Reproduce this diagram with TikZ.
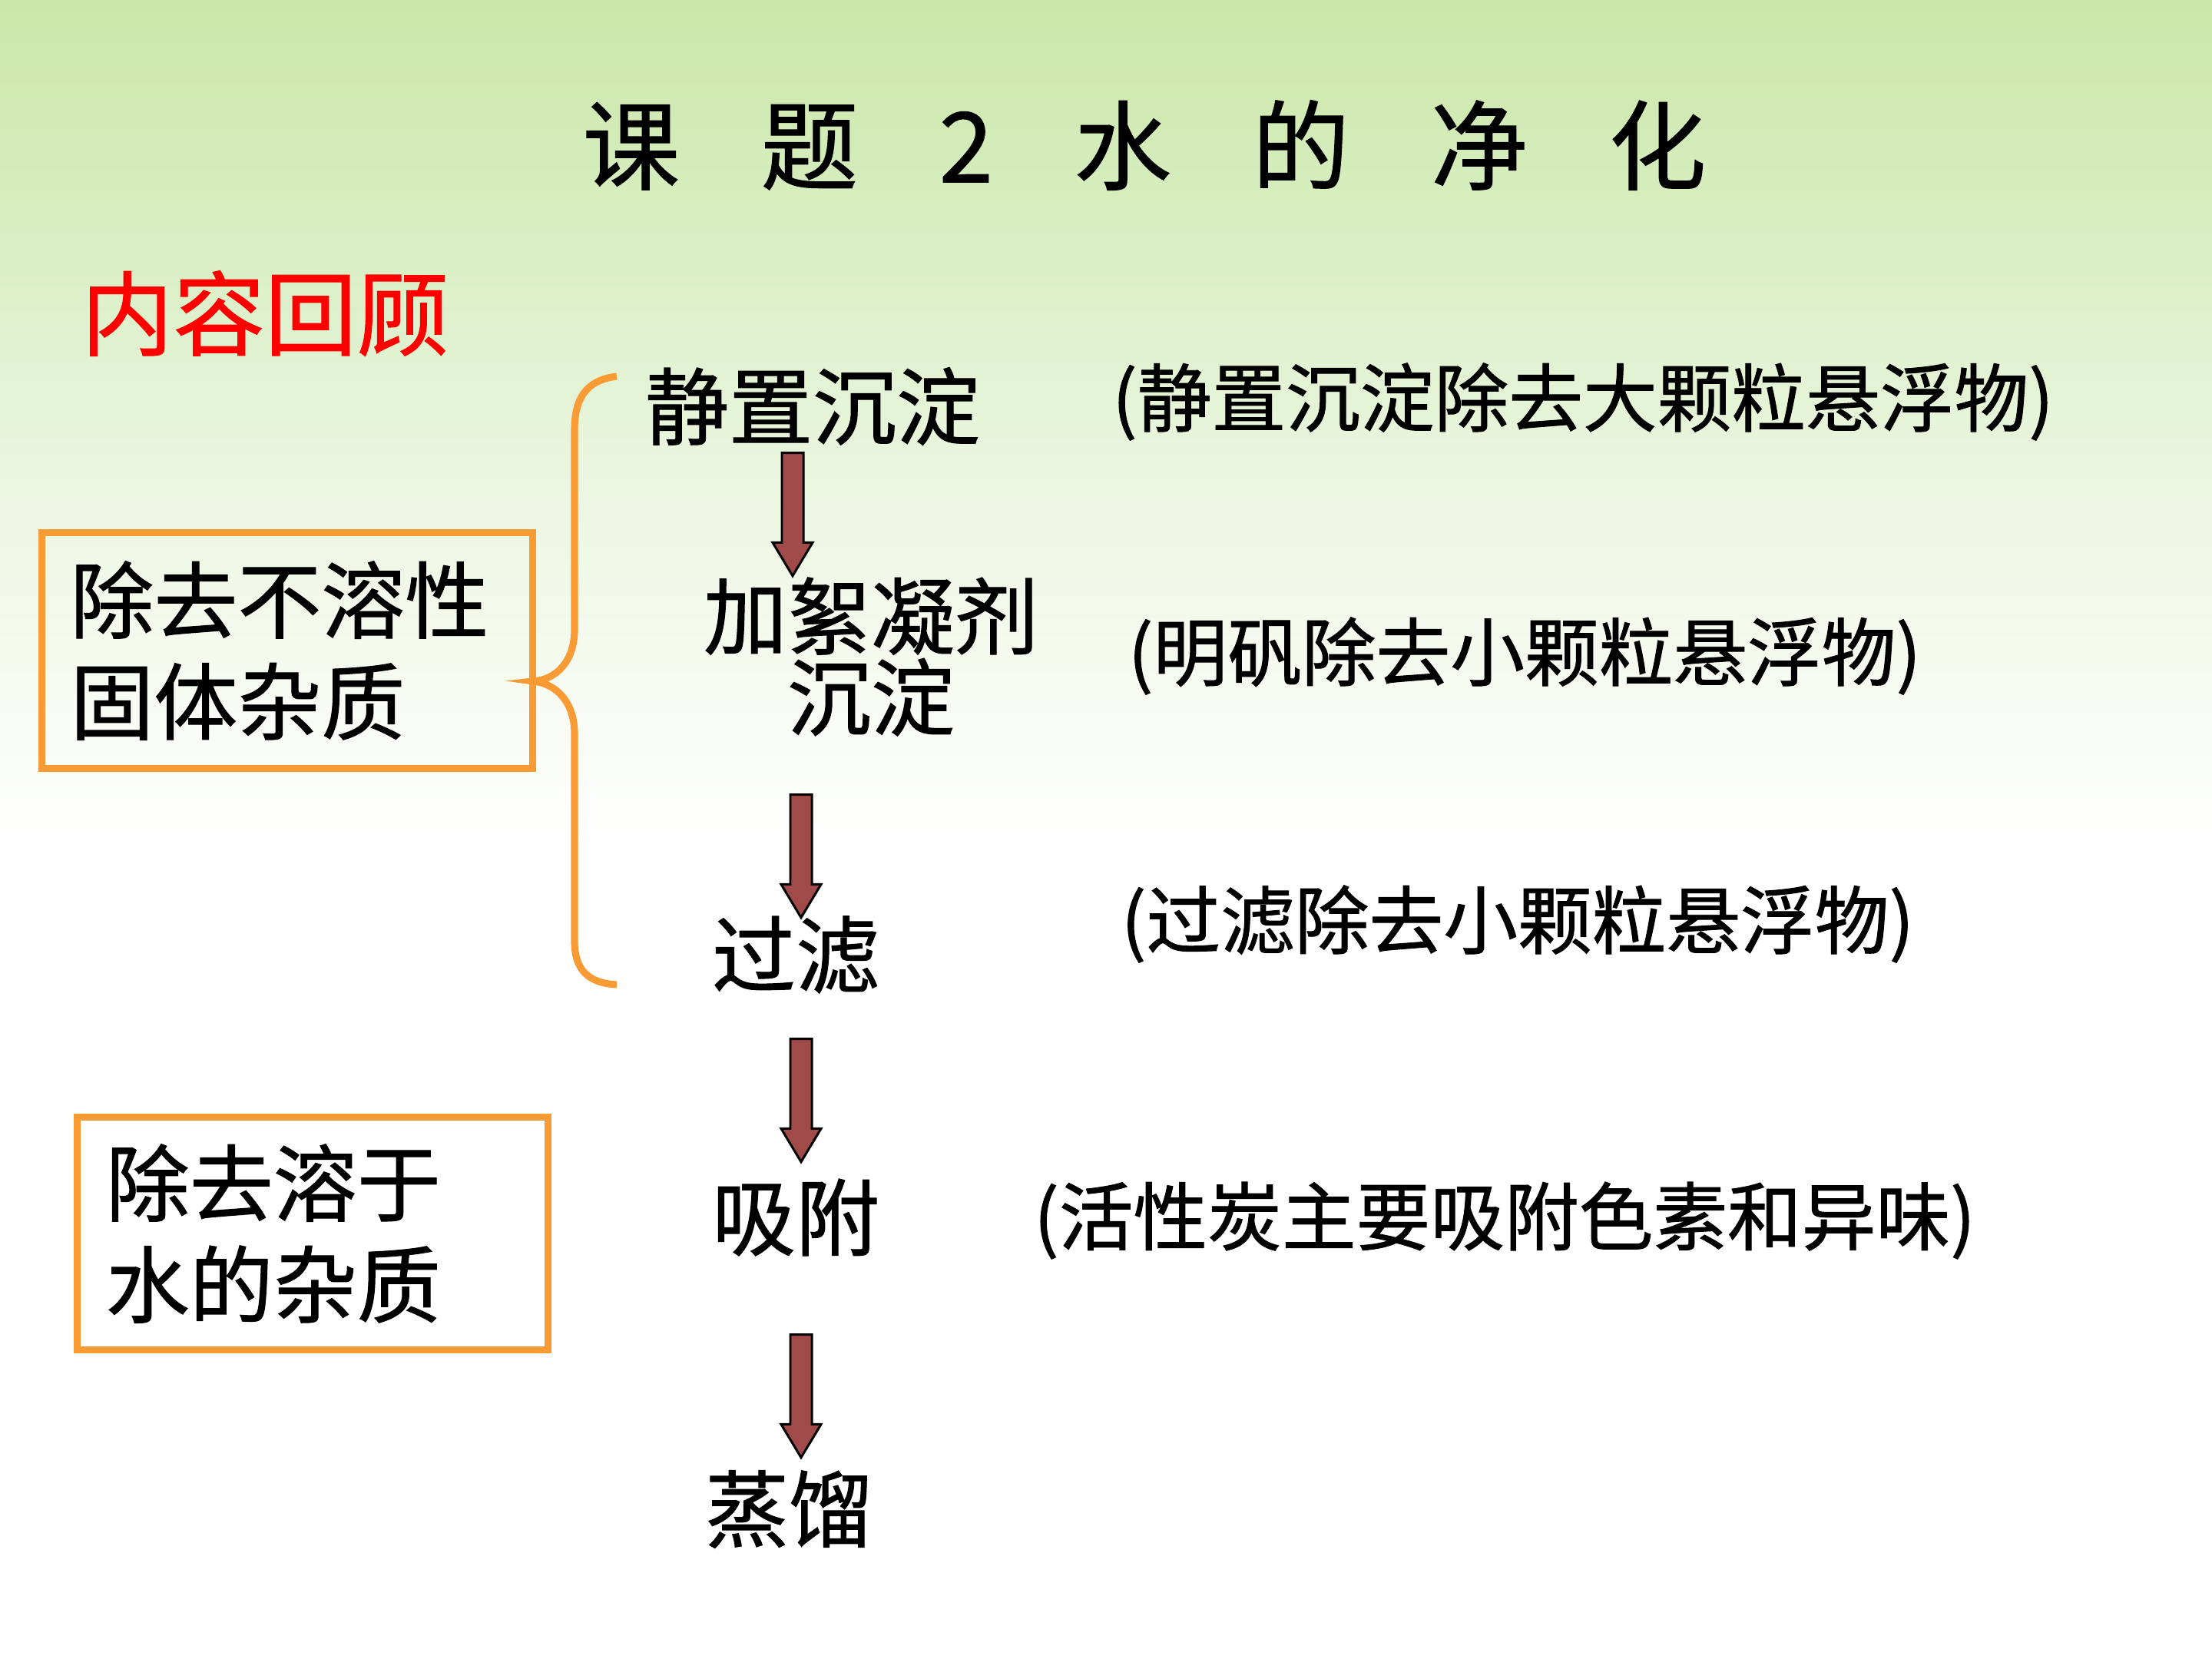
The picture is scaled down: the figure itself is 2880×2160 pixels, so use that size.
\documentclass[tikz,border=0pt]{standalone}
\usepackage{fontspec}
\newfontfamily\cjk[FakeBold=1]{Noto Sans CJK SC}
\usepackage{tikz}
\usetikzlibrary{shapes.arrows}

\definecolor{bgtop}{RGB}{203,231,168}
\definecolor{bgmid}{RGB}{216,238,194}
\definecolor{bglow}{RGB}{236,246,226}
\definecolor{boxorange}{RGB}{248,155,52}
\definecolor{arrred}{RGB}{160,74,74}
\newcommand{\ttlgap}{\hspace{30pt}}

\begin{document}
\begin{tikzpicture}[x=0.01cm, y=-0.01cm,
    ttl/.style={font=\cjk\fontsize{36}{40}\selectfont, inner sep=0pt},
    stage/.style={font=\cjk\fontsize{31}{30}\selectfont, align=center, inner sep=0pt},
    note/.style={font=\cjk\fontsize{27.5}{30}\selectfont, inner sep=0pt},
    sbox/.style={draw=boxorange, line width=2.6pt, font=\cjk\fontsize{31}{37.5}\selectfont,
                 align=left, inner xsep=0.37cm, inner ysep=0pt},
    barr/.style={single arrow, draw=black, line width=0.85pt, fill=arrred,
                 minimum width=0pt, minimum height=1.6cm, inner xsep=0pt, inner ysep=0.125cm,
                 single arrow head extend=0.12cm, single arrow tip angle=62, rotate=-90},
    brc/.style={draw=boxorange, line width=2.6pt}
  ]
  % background
  \useasboundingbox (0,0) rectangle (2880,2160);
  \fill[white] (0,0) rectangle (2880,2160);
  \shade[top color=bgtop, bottom color=bgmid] (0,0) rectangle (2880,300);
  \shade[top color=bgmid, bottom color=bglow] (0,300) rectangle (2880,650);
  \shade[top color=bglow, bottom color=white] (0,650) rectangle (2880,1100);

  % title
  \node[ttl] (title) at (1490,189) {课\ttlgap 题\ttlgap 2\ttlgap 水\ttlgap 的\ttlgap 净\ttlgap 化};
  \node[ttl, text=red, font=\cjk\fontsize{34}{40}\selectfont] (review) at (345,408) {内容回顾};

  % left boxes
  \node[sbox, minimum width=6.39cm, minimum height=3.07cm, text width=5.65cm] (solid) at (374,847) {除去不溶性\\固体杂质};
  \node[sbox, minimum width=6.12cm, minimum height=3.03cm, text width=5.38cm] (soluble) at (407,1606) {除去溶于\\水的杂质};

  % steps
  \node[stage] (settle) at (1058,529) {静置沉淀};
  \node[stage] (floc)   at (1134,855) {加絮凝剂\\沉淀};
  \node[stage] (filter) at (1036,1243) {过滤};
  \node[stage] (adsorb) at (1036,1585) {吸附};
  \node[stage] (distil) at (1027,1965) {蒸馏};

  \node[barr] (a1) at (1032,658) {};
  \node[barr] (a2) at (1043,1103) {};
  \node[barr] (a3) at (1043,1421) {};
  \node[barr] (a4) at (1043,1806) {};

  % notes
  \node[note] (n1) at (2061,523)  {(静置沉淀除去大颗粒悬浮物)};
  \node[note] (n2) at (1985,854)  {(明矾除去小颗粒悬浮物)};
  \node[note] (n3) at (1976,1203) {(过滤除去小颗粒悬浮物)};
  \node[note] (n4) at (1959,1589) {(活性炭主要吸附色素和异味)};

  % brace
  \coordinate (btop) at (803,490);
  \coordinate (btip) at (694,887);
  \coordinate (bbot) at (803,1282);
  \draw[brc] (btop) .. controls (762,495) and (748,520) .. (748,560) -- (748,820)
    .. controls (748,860) and (725,885) .. (btip)
    .. controls (725,890) and (748,915) .. (748,955) -- (748,1225)
    .. controls (748,1262) and (765,1280) .. (bbot);
\end{tikzpicture}
\end{document}
